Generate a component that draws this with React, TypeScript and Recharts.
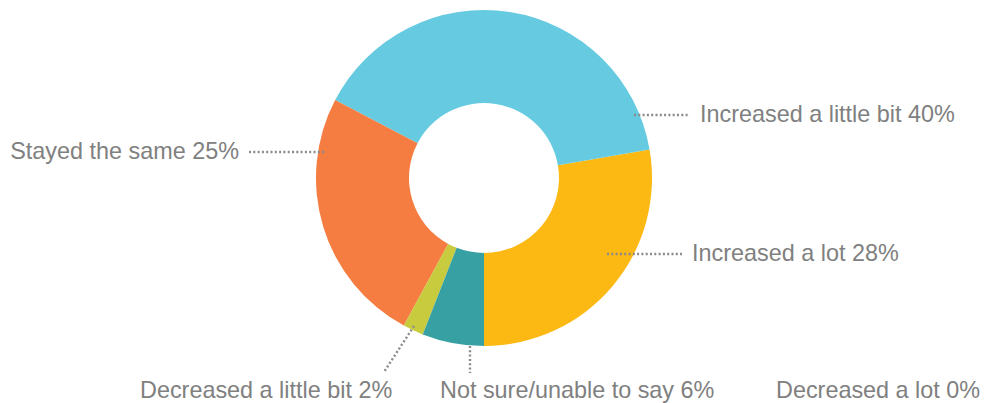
import React from 'react';
import { PieChart, Pie, Cell } from 'recharts';

const categories = [
  'Increased a lot',
  'Increased a little bit',
  'Stayed the same',
  'Decreased a little bit',
  'Decreased a lot',
  'Not sure/unable to say',
];
const values = [28, 40, 25, 2, 0, 6];
const colors = ['#FDB913', '#66CBE0', '#F57D42', '#C8CB3E', '#8E8E8E', '#37A0A2'];

const data = categories.map((name, i) => ({ name, value: values[i] }));

// label layout: text anchor point and leader line (page coordinates)
const labelLayout = [
  { x: 692, y: 253, anchor: 'start', line: [607, 254, 682, 254] },
  { x: 700, y: 114, anchor: 'start', line: [634, 115, 690, 115] },
  { x: 239, y: 151, anchor: 'end', line: [249, 152, 326, 152] },
  { x: 140, y: 390, anchor: 'start', line: [414, 326, 384, 372] },
  { x: 776, y: 390, anchor: 'start', line: null },
  { x: 440, y: 390, anchor: 'start', line: [470, 346, 470, 373] },
];

const renderLabel = (props: any) => {
  const { index } = props;
  const l = labelLayout[index];
  const d = data[index];
  return (
    <g key={`lbl-${index}`}>
      {l.line && (
        <line
          x1={l.line[0]}
          y1={l.line[1]}
          x2={l.line[2]}
          y2={l.line[3]}
          stroke="#8a8a8a"
          strokeWidth={2.4}
          strokeDasharray="2 2.3"
        />
      )}
      <text
        x={l.x}
        y={l.y}
        textAnchor={l.anchor as any}
        dominantBaseline="central"
        fill="#808080"
        fontSize={23.4}
        fontFamily="'Liberation Sans', Arial, sans-serif"
      >
        {`${d.name} ${d.value}%`}
      </text>
    </g>
  );
};

export default function App() {
  return (
    <div style={{ position: 'absolute', left: 0, top: 0 }}>
      <PieChart width={987} height={403} margin={{ top: 0, right: 0, bottom: 0, left: 0 }}>
        <Pie
          data={data}
          dataKey="value"
          nameKey="name"
          cx={484}
          cy={178}
          innerRadius={75}
          outerRadius={168}
          startAngle={-90}
          endAngle={270}
          stroke="none"
          label={renderLabel}
          labelLine={false}
          isAnimationActive={false}
        >
          {data.map((d, i) => (
            <Cell key={d.name} fill={colors[i]} />
          ))}
        </Pie>
      </PieChart>
    </div>
  );
}
